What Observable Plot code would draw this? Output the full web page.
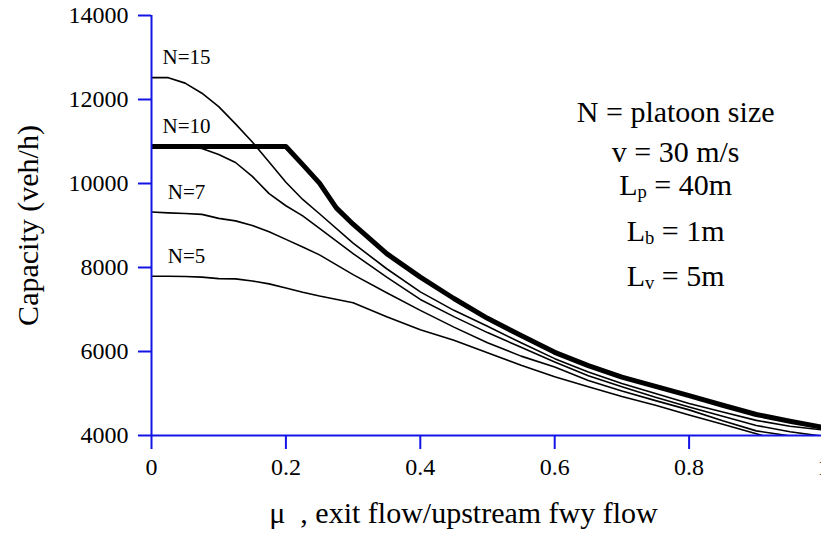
<!DOCTYPE html>
<html><head><meta charset="utf-8">
<script src="https://cdn.jsdelivr.net/npm/d3@7"></script>
<script src="https://cdn.jsdelivr.net/npm/@observablehq/plot@0.6"></script>
<style>html,body{margin:0;padding:0;background:#fff;} svg{display:block} svg text{font-family:"Liberation Serif","Times New Roman",serif !important;}</style>
</head><body><div id="chart"></div>
<script>
// ---- data ----
const mu = [0, 0.025, 0.05, 0.075, 0.1, 0.125, 0.15, 0.175, 0.2, 0.225, 0.25, 0.3, 0.35, 0.4, 0.45, 0.5, 0.55, 0.6, 0.65, 0.7, 0.75, 0.8, 0.85, 0.9, 0.95, 1.0];
const capN15 = [12520, 12520, 12390, 12150, 11830, 11420, 10990, 10510, 10030, 9620, 9280, 8580, 7970, 7420, 6980, 6600, 6210, 5830, 5510, 5240, 5000, 4760, 4560, 4360, 4220, 4130];
const capN10 = [10880, 10880, 10865, 10835, 10690, 10500, 10170, 9760, 9470, 9230, 8930, 8330, 7770, 7240, 6830, 6450, 6100, 5750, 5420, 5160, 4910, 4680, 4460, 4240, 4090, 3980];
const capN7  = [9320, 9300, 9285, 9265, 9170, 9110, 9000, 8850, 8670, 8490, 8300, 7830, 7400, 6980, 6580, 6210, 5890, 5630, 5310, 5060, 4830, 4610, 4350, 4110, 3990, 3850];
const capN5  = [7790, 7790, 7785, 7770, 7735, 7730, 7680, 7610, 7510, 7410, 7320, 7160, 6830, 6520, 6270, 5970, 5670, 5400, 5160, 4930, 4720, 4490, 4270, 4040, 3820, 3600];
const muBold  = [0, 0.2, 0.225, 0.25, 0.275, 0.3, 0.35, 0.4, 0.45, 0.5, 0.55, 0.6, 0.65, 0.7, 0.75, 0.8, 0.85, 0.9, 0.95, 1.0];
const capBold = [10880, 10880, 10450, 10010, 9420, 9030, 8330, 7770, 7262, 6790, 6380, 5980, 5665, 5390, 5170, 4950, 4720, 4500, 4340, 4190];
const seriesNames = ["N=15", "N=10", "N=7", "N=5"];
const yTicks = [4000, 6000, 8000, 10000, 12000, 14000];
const xTicks = [0, 0.2, 0.4, 0.6, 0.8, 1];
const annotations = ["N = platoon size", "v = 30 m/s", "L_p = 40m", "L_b = 1m", "L_v = 5m"];
const yLabel = "Capacity (veh/h)";
const xLabel = "\u03bc  , exit flow/upstream fwy flow";

// ---- tables ----
const thinValues = [capN15, capN10, capN7, capN5];
const thinRows = seriesNames.flatMap((name, k) => mu.map((m, i) => ({series: name, mu: m, cap: thinValues[k][i]})));
const boldRows = muBold.map((m, i) => ({mu: m, cap: capBold[i]}));
const labelRows = seriesNames.map((name, k) => ({series: name, mu: mu[0], cap: thinValues[k][0]}));

const blue = "#1414e6";
const font = "Liberation Serif, Times New Roman, serif";
const annotY = [11460, 10507, 9738, 8626, 7548];

const plot = Plot.plot({
  width: 821, height: 539,
  marginLeft: 151, marginRight: 0, marginTop: 15, marginBottom: 104,
  style: {background: "white", overflow: "hidden", color: "black"},
  x: {domain: [0, 1], range: [151, 823]},
  y: {domain: [4000, 14000], range: [435, 15]},
  marks: [
    Plot.line(thinRows, {x: "mu", y: "cap", z: "series", stroke: "black", strokeWidth: 1.6, clip: true}),
    Plot.line(boldRows, {x: "mu", y: "cap", stroke: "black", strokeWidth: 5, clip: true}),
    Plot.ruleY([4000], {stroke: blue, strokeWidth: 2}),
    Plot.ruleX([0], {stroke: blue, strokeWidth: 2}),
    Plot.axisY(yTicks, {tickSize: 13, tickPadding: 10, stroke: blue, strokeWidth: 2, fill: "black", fontSize: 24, fontFamily: font, tickFormat: d => String(d), label: null}),
    Plot.axisX(xTicks, {tickSize: 14, tickPadding: 8, stroke: blue, strokeWidth: 2, fill: "black", fontSize: 24, fontFamily: font, tickFormat: d => String(d), label: null}),
    Plot.text(labelRows, {x: "mu", y: "cap", text: "series", textAnchor: "middle", lineAnchor: "bottom", dx: 35, dy: -13.5, fontSize: 21, fontFamily: font, fill: "black"}),
    Plot.text(annotations, {x: () => 0.78, y: (d, i) => annotY[i], text: d => d, textAnchor: "middle", lineAnchor: "bottom", fontSize: 30, fontFamily: font, fill: "black"}),
    Plot.text([yLabel], {frameAnchor: "left", textAnchor: "middle", lineAnchor: "middle", dx: -123, rotate: -90, fontSize: 30, fontFamily: font, fill: "black"}),
    Plot.text([xLabel], {frameAnchor: "bottom", textAnchor: "middle", lineAnchor: "bottom", dx: -23, dy: 87, fontSize: 30, fontFamily: font, fill: "black"})
  ]
});
plot.setAttribute("font-family", font);

// subscripts (L_p -> L with small p)
plot.querySelectorAll("text").forEach(t => {
  const s = t.textContent;
  const m = s.match(/^(.*?)_(\w)(.*)$/);
  if (!m) return;
  t.textContent = "";
  t.append(m[1]);
  const ns = "http://www.w3.org/2000/svg";
  const sub = document.createElementNS(ns, "tspan");
  sub.setAttribute("font-size", "0.62em");
  sub.setAttribute("dy", "3");
  sub.textContent = m[2];
  const rest = document.createElementNS(ns, "tspan");
  rest.setAttribute("dy", "-3");
  rest.textContent = m[3];
  t.append(sub, rest);
});

document.getElementById("chart").append(plot);
</script>
</body></html>
